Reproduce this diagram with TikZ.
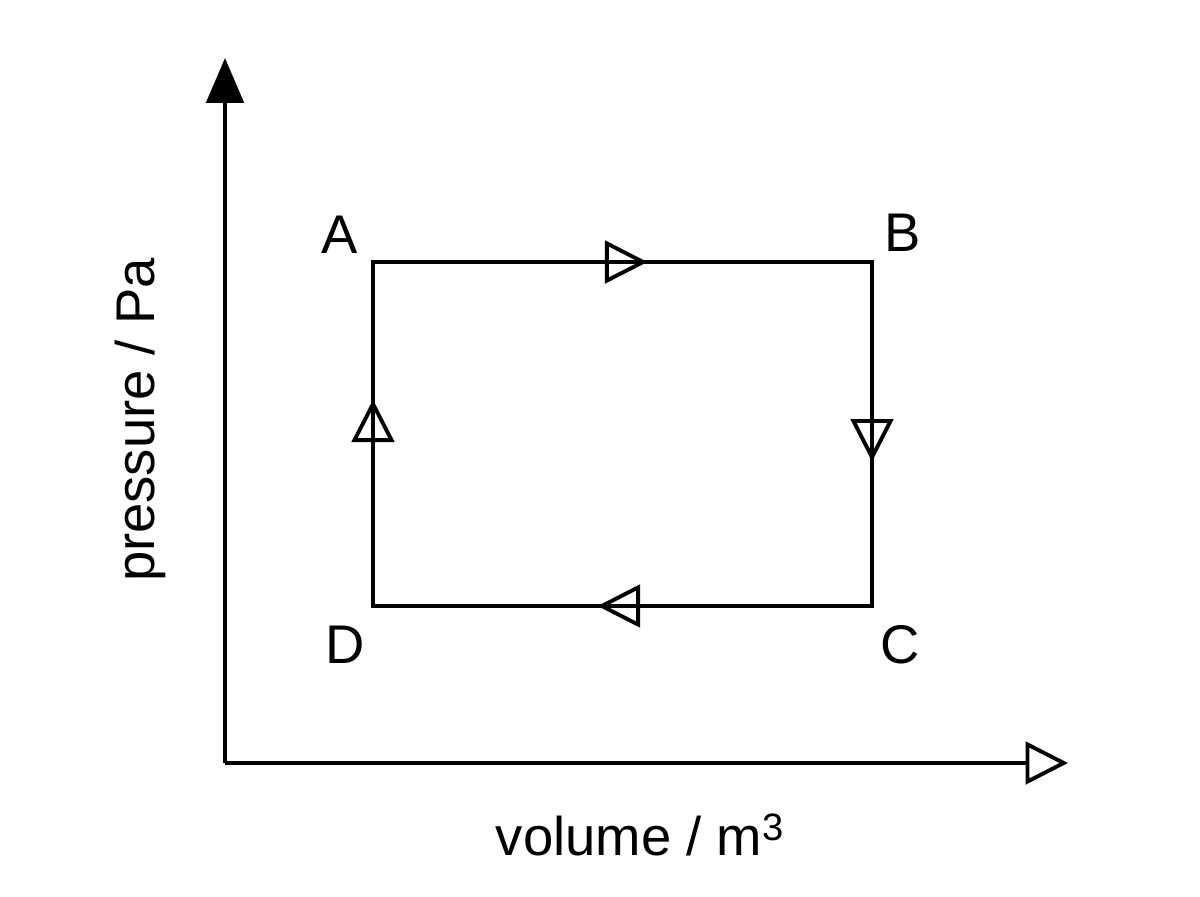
\documentclass[tikz,border=0pt]{standalone}
\usepackage{fontspec}
\setmainfont{Liberation Sans}
\usetikzlibrary{arrows.meta,decorations.markings}
\tikzset{
  ln/.style={line width=2.2pt},
  opentip/.style={-{Triangle[open,length=0.85cm,width=0.85cm,line width=2.2pt]}},
  midarrow/.style={postaction={decorate},decoration={markings,
    mark=at position #1 with {\arrow{Triangle[open,length=0.85cm,width=0.85cm,line width=2.2pt]}}}},
  lbl/.style={font=\fontsize{31}{36}\selectfont}
}
\begin{document}
\begin{tikzpicture}[x=0.02cm,y=-0.02cm]
  \useasboundingbox (0,0) rectangle (1200,896);
  % axes
  \coordinate (O) at (225,763);
  \coordinate (ytop) at (225,58);
  \coordinate (xend) at (1068,763);
  \draw[ln,-{Triangle[length=0.9cm,width=0.75cm]}] (O) -- (ytop);
  \draw[ln,opentip] (O) -- (xend);
  % cycle
  \coordinate (A) at (373,262);
  \coordinate (B) at (872,262);
  \coordinate (C) at (872,606);
  \coordinate (D) at (373,606);
  \draw[ln,midarrow=0.55] (A) -- (B);
  \draw[ln,midarrow=0.58] (B) -- (C);
  \draw[ln,midarrow=0.55] (C) -- (D);
  \draw[ln,midarrow=0.60] (D) -- (A);
  \draw[ln,line cap=round] (A) -- (B) -- (C) -- (D) -- cycle;
  % labels
  \node[lbl] (la) at (340,235) {A};
  \node[lbl] (lb) at (903,233) {B};
  \node[lbl] (lc) at (900,645) {C};
  \node[lbl] (ld) at (345,645) {D};
  \node[lbl,rotate=90] (py) at (140,420) {pressure / Pa};
  \node[lbl] (vx) at (640,835) {volume / m$^{\mathrm{3}}$};
\end{tikzpicture}
\end{document}
